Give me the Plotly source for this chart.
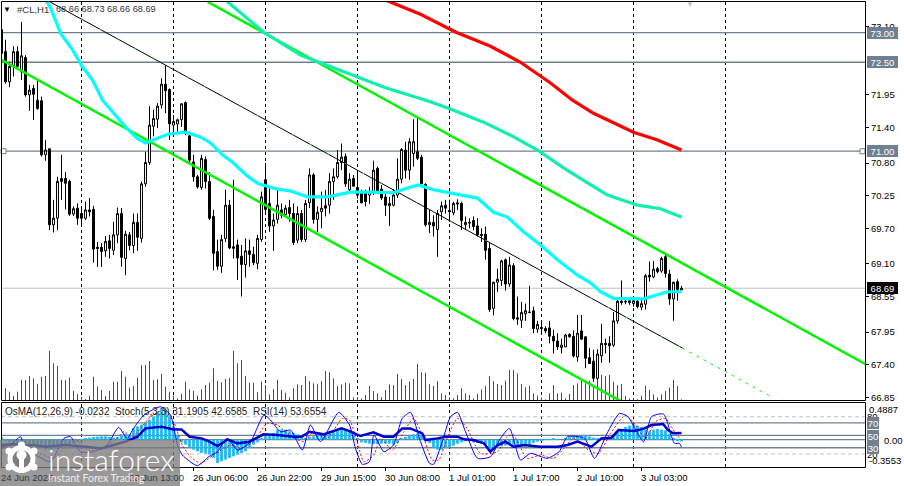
import plotly.graph_objects as go

# Hourly bars: open, high, low, close
opens = [73.05,72.68,72.17,72.43,72.68,72.34,72.58,71.95,72.06,71.86,71.85,70.94,71.04,69.76,69.87,70.54,70.54,70.49,69.94,70.04,
69.95,69.87,70.01,70.02,69.38,69.38,69.32,69.49,69.33,69.59,69.95,69.19,69.59,69.41,69.80,69.53,70.45,70.81,71.42,71.54,
71.78,72.13,72.04,71.44,71.46,71.53,71.82,71.26,70.82,70.57,70.39,70.86,70.49,69.90,69.31,69.06,69.53,70.09,69.36,69.42,
69.23,69.09,69.32,69.26,69.11,69.51,70.52,70.12,69.74,69.85,70.01,69.93,70.05,69.95,69.50,69.95,69.51,70.13,70.60,69.85,
69.98,70.08,70.09,70.49,70.57,70.81,70.91,70.35,70.54,70.39,70.29,70.29,70.26,70.32,70.71,70.36,70.23,70.08,70.09,70.26,
70.53,71.02,70.68,70.96,70.99,70.90,70.44,69.76,69.80,69.68,69.98,70.09,70.00,69.96,70.13,70.12,69.76,69.80,69.83,69.74,
69.60,69.60,69.36,68.35,68.79,68.82,69.17,68.76,69.07,68.19,68.15,68.26,68.29,68.31,68.00,68.03,68.01,68.02,67.88,67.80,
67.69,67.70,67.91,67.88,67.53,67.97,67.87,67.52,67.46,67.17,67.55,67.76,67.76,67.73,68.14,68.47,68.47,68.48,68.43,68.47,
68.37,68.42,68.91,68.88,69.02,68.98,69.22,68.93,68.51,68.80,68.66]
highs = [73.05,72.88,72.51,72.77,72.77,73.18,72.62,72.12,72.12,72.20,71.92,71.19,71.05,70.18,70.57,70.94,70.65,70.52,70.07,70.12,
70.04,70.15,70.21,70.08,69.47,69.45,69.57,69.59,69.81,70.05,70.04,69.66,69.64,69.95,69.95,70.49,70.99,71.76,71.70,71.81,
72.23,72.45,72.06,71.61,71.55,71.81,71.84,71.33,70.94,70.60,70.94,70.91,70.65,70.01,69.51,69.59,70.35,70.18,70.52,69.51,
69.42,69.53,69.51,69.39,69.59,70.32,70.80,70.40,69.95,70.35,70.12,70.09,70.18,70.12,70.07,70.01,70.18,70.71,70.63,70.07,
70.32,70.35,70.63,70.71,71.02,71.13,70.96,70.63,70.60,70.68,70.35,70.35,70.40,70.84,70.74,70.43,70.29,70.23,70.36,70.88,
71.05,71.16,71.22,71.54,71.58,70.94,70.46,70.01,69.92,70.01,70.15,70.18,70.18,70.15,70.19,70.15,69.90,69.87,69.90,69.87,
69.70,69.73,69.45,68.80,69.02,69.17,69.19,69.22,69.11,68.55,68.46,68.43,68.73,68.38,68.14,68.11,68.05,68.14,67.99,67.93,
67.84,67.92,67.93,67.98,68.24,68.24,67.88,67.68,67.65,67.66,68.09,67.84,67.88,68.29,68.50,68.82,68.50,68.50,68.52,68.52,
68.49,68.93,69.14,69.15,69.05,69.22,69.25,69.00,68.80,68.84,68.73]
lows = [72.34,72.14,72.08,72.26,72.37,72.20,71.92,71.68,71.53,71.70,70.91,70.84,69.67,69.63,69.67,70.18,70.02,69.91,69.91,69.76,
69.76,69.84,69.90,69.12,69.05,69.05,69.22,69.19,69.25,69.45,69.05,68.91,69.33,69.28,69.32,69.46,70.40,70.77,71.25,71.39,
71.72,71.64,71.19,71.30,71.33,71.41,71.27,70.80,70.49,70.37,70.35,70.37,69.84,68.99,69.00,68.95,69.47,69.35,69.19,68.83,
68.55,68.87,69.05,69.08,69.01,69.47,69.95,69.64,69.32,69.78,69.87,69.90,69.81,69.42,69.45,69.47,69.47,70.04,69.78,69.64,
69.70,69.90,69.95,70.18,70.54,70.68,70.40,70.29,70.41,70.20,70.12,70.07,70.11,70.26,70.29,70.18,69.91,69.74,70.07,70.21,
70.46,70.54,70.52,70.74,70.85,70.43,69.73,69.62,69.56,69.22,69.84,69.95,69.81,69.92,70.01,69.67,69.67,69.70,69.67,69.56,
69.47,69.17,68.29,68.23,68.63,68.73,68.65,68.71,68.15,68.07,68.02,68.14,68.27,67.93,67.94,67.93,67.93,67.76,67.59,67.65,
67.59,67.70,67.86,67.52,67.45,67.82,67.34,67.42,67.11,67.14,67.43,67.59,67.43,67.70,68.09,68.41,68.42,68.41,68.38,68.35,
68.32,68.33,68.80,68.86,68.94,68.95,68.87,68.41,68.14,68.48,68.66]
closes = [72.65,72.17,72.43,72.68,72.43,72.61,71.95,72.03,71.96,71.72,70.94,71.02,69.76,69.87,70.49,70.49,70.46,69.94,70.03,69.87,
69.87,70.01,69.98,69.35,69.36,69.31,69.48,69.36,69.59,69.95,69.21,69.60,69.41,69.80,69.55,70.45,70.81,71.44,71.55,71.76,
72.13,72.02,71.46,71.50,71.53,71.80,71.30,70.85,70.57,70.40,70.88,70.49,69.87,69.28,69.06,69.51,70.09,69.37,69.39,69.20,
69.09,69.32,69.26,69.12,69.53,70.23,70.02,69.74,69.84,70.09,69.92,70.04,69.95,69.46,69.95,69.51,70.12,70.60,69.85,69.97,
70.04,70.04,70.49,70.57,70.81,70.90,70.45,70.53,70.41,70.26,70.13,70.15,70.32,70.68,70.33,70.21,70.09,70.12,70.26,70.53,
71.03,70.68,71.16,71.16,70.88,70.45,69.76,69.80,69.74,69.95,70.08,70.04,69.98,70.12,70.11,69.83,69.80,69.79,69.73,69.59,
69.58,69.33,68.33,68.79,68.84,69.15,68.76,69.08,68.18,68.17,68.28,68.31,68.28,68.01,68.08,68.01,67.97,67.88,67.80,67.70,
67.73,67.90,67.87,67.55,67.93,67.83,67.51,67.42,67.17,67.58,67.76,67.74,67.72,68.14,68.47,68.45,68.46,68.45,68.48,68.38,
68.43,68.90,68.88,69.01,68.97,69.19,68.94,68.51,68.79,68.67,68.69]
volumes = [55,35,25,12,25,60,60,72,65,48,70,72,147,110,102,60,60,67,27,18,10,3,13,70,40,30,12,27,55,55,87,70,37,42,67,105,105,117,60,62,
78,40,25,13,5,18,55,32,27,13,32,45,52,95,57,53,63,66,147,110,120,72,52,52,23,55,45,17,33,60,30,22,8,35,47,45,72,57,50,47,
57,87,83,65,42,47,52,50,8,8,5,15,42,27,20,8,30,47,45,78,63,45,55,63,108,83,82,47,42,57,20,15,8,5,15,35,20,15,5,18,
32,42,72,57,48,45,58,90,90,80,48,38,43,20,13,8,2,20,45,20,22,5,18,45,50,60,50,58,45,62,75,72,75,55,45,48,12,4,5,2,
13,43,30,17,8,17,27,37,60,42,2]

# Moving averages as (bar, price) pairs
ma_fast_bars = [9.75,11,12.25,14.75,17.75,20.25,22.75,25.25,28.5,31,34,36,39,41.75,46,49.75,52.25,55.25,58,61.5,64.25,69,72.25,76.5,81.5,84.75,87.25,92.25,98,101.5,104.25,108,112.25,119,123,126.5,130.5,134.75,139,144,147.25,149.75,153,160.5,164,166.5,170]
ma_fast_vals = [73.69,73.55,73.42,72.99,72.71,72.42,72.20,71.86,71.61,71.41,71.21,71.14,71.22,71.29,71.32,71.24,71.14,70.94,70.80,70.58,70.45,70.36,70.33,70.23,70.23,70.28,70.31,70.31,70.30,70.38,70.43,70.35,70.30,70.21,69.97,69.89,69.64,69.42,69.17,68.91,68.78,68.63,68.52,68.51,68.58,68.63,68.63]
ma_mid_bars = [55.25,56.5,65.5,74.75,79.75,87.25,96,106.5,112.25,120.5,127.25,134,140.5,145.5,151.5,159,164.75,170]
ma_mid_vals = [73.60,73.52,73.01,72.62,72.49,72.30,72.07,71.85,71.71,71.49,71.27,71.02,70.72,70.51,70.26,70.09,70.03,69.89]
ma_slow_bars = [94.75,96,104.75,113.5,122.25,129.75,137.25,142.75,148,153,158,164,170]
ma_slow_vals = [73.60,73.55,73.31,73.01,72.77,72.50,72.15,71.86,71.64,71.48,71.32,71.19,71.02]

# Falling channel, end points as (bar, price)
chan_lower_bars, chan_lower_vals = [-0.25, 155.5], [72.55, 66.76]
chan_mid_bars, chan_mid_vals = [11.25, 170.25], [73.55, 67.68]
chan_ext_bars, chan_ext_vals = [170.25, 193], [67.68, 66.84]
chan_upper_bars, chan_upper_vals = [51.5, 216], [73.52, 67.41]

# Price levels and axis labels
levels = [73.00, 72.50, 71.00]
last_price = 68.69
price_ticks = [73.10, 71.95, 71.40, 70.80, 70.25, 69.70, 69.10, 68.55, 67.95, 67.40, 66.85]
day_breaks = [20, 43, 66, 89, 112, 135, 158, 181]
time_bars = [0, 32, 48, 64, 80, 96, 112, 128, 144, 160]
time_text = ["24 Jun 2023", "23 Jun 13:00", "26 Jun 06:00", "26 Jun 22:00", "29 Jun 15:00", "30 Jun 08:00",
             "1 Jul 01:00", "1 Jul 17:00", "2 Jul 10:00", "3 Jul 03:00"]

# Oscillators
osma = [.035,-.022,-.035,-.043,-.043,-.043,-.052,-.065,-.078,-.087,-.108,-.130,-.130,-.130,-.121,-.095,-.087,-.065,-.052,-.035,
-.013,.013,.026,.035,.039,.043,.043,.035,.026,.035,.065,.078,.065,.152,.173,.195,.216,.260,.303,.368,
.411,.390,.303,.173,.065,-.035,-.065,-.108,-.130,-.152,-.173,-.182,-.195,-.238,-.303,-.281,-.260,-.238,-.216,-.195,
-.173,-.152,-.108,-.065,-.035,.009,.043,.065,.087,.130,.130,.130,.108,.087,.065,.043,.022,.035,.043,.052,
.065,.078,.108,.108,.121,.130,.130,.121,.065,.022,-.035,-.043,-.052,-.056,-.056,-.052,-.052,-.052,-.065,-.043,
.022,.035,.052,.069,.078,.065,0,-.043,-.108,-.130,-.130,-.108,-.095,-.078,-.052,-.035,-.022,-.022,-.035,-.043,
-.052,-.065,-.152,-.130,-.108,-.087,-.078,-.065,-.065,-.087,-.095,-.087,-.065,-.043,-.026,-.013,.004,-.004,.009,.004,
0,.017,.035,.043,.043,.052,.052,.043,.026,.009,.026,.035,.035,.061,.108,.139,.165,.182,.195,.182,
.165,.130,.108,.130,.139,.130,.121,.078,.022,-.009,-.0232]
rsi_bars = [0,3,6,8,11,16,21,25,28,31,34,36,40,43,45,47,50,52,54,56.5,59,62,65.5,69,73,75,77,80.5,85,87,89.75,93,95.6,98,100.2,102.2,105.2,106,109,111,114,115.6,118,120.6,122.2,124,126,128,130.6,134.75,139,141.5,144,147.5,150,152.5,154.25,158.3,160.75,162.5,165.4,166.6,167.9,170]
rsi_vals = [34.4,36,33.3,34.4,31.7,34.4,31.7,29,34.4,39.8,47.8,61.2,63.9,59.6,59.6,47.8,45.1,39.8,32.8,43.5,37.1,39.8,51.6,50.5,47.8,47.8,55.8,51.6,61.2,56.9,48.9,54.8,47.8,47.8,61.2,61.2,53.2,42.4,45.1,47.8,47.8,43.5,42.4,37.1,23.7,34.4,39.8,31.7,34.4,31.7,31.7,34.4,39.8,31.7,45.1,46.2,58.5,56.9,61.2,66.6,68.2,58.5,53.2,53.66]
stoch_bars = [0,2.25,4.75,5.6,8,12.25,15.6,17.25,19.75,23,26.4,29.3,31.4,33,35.6,39.75,42.25,44,45.2,49,51.8,54,56.4,59,62.25,65.6,67.25,69.75,72.25,75.2,77.25,79.75,84.3,87,88.5,90.2,92,93.1,95.6,98,100.2,102.25,104.75,107,108,110.2,112.25,114,116,119,122.25,124.75,127,129.75,132.25,136.4,139.4,141.5,145.75,148.25,151.6,154.5,156.6,160.5,162.5,165.5,168.25,169.5,170]
stoch_vals = [31.7,34.4,47.8,34.4,21,7.6,45.1,47.8,23.7,23.7,34.4,62.8,45.1,61.2,82.6,96,82.6,34.4,18.3,1.2,15.6,23.7,45.1,26.4,39.8,82.6,74.6,55.8,58.5,26.4,66.6,39.8,86.9,66.6,29,3.3,7.6,50.5,23.7,34.4,77.3,86.9,39.8,4.9,3.3,39.8,80,86.9,55.8,13,15.6,45.1,61.2,10.3,21,13,23.7,47.8,45.1,13,55.8,85.3,80,39.8,80,84.2,37.1,37.1,31.19]
signal_bars = [0,3,6,8,13,16.4,18.5,21.4,24.75,28,30.6,32.7,34.75,37.25,40.6,43,45.2,47.25,49.75,53,57.25,59.75,63,66.4,69,71.4,75.6,78,81.4,85.2,87,88.9,90.6,93.1,94.75,97.7,100.6,103,105.6,107.7,109.3,111.4,114,116.4,119.75,124,126.4,128,131.4,134.75,138,140.6,143,147.25,149.3,152.25,156,158.5,161,163.5,166,168.5,170]
signal_vals = [29,34.4,39.8,26.4,13,34.4,42.4,26.4,26.4,39.8,55.8,47.8,61.2,80,90.7,71.9,34.4,15.6,4.9,18.3,34.4,29,39.8,69.2,66.6,53.2,39.8,55.8,45.1,77.3,74.6,39.8,7.6,18.3,45.1,26.4,55.8,77.3,45.1,10.3,10.3,45.1,77.3,61.2,21,23.7,47.8,50.5,13,18.3,13,29,45.1,23.7,21,53.2,82.6,66.6,45.1,71.9,77.3,53.2,42.66]
rsi_levels = [70, 50, 30]
stoch_levels = [80, 20]

FONT = "Liberation Sans"
SIZE = 9.5
SLATE = "#708090"
bars = list(range(len(closes)))


def fx(x):
    return (x - 1) / 864


def fy(y):
    return (467 - y) / 466


fig = go.Figure()

# Lower window: OsMA histogram with stochastic and RSI on top
fig.add_trace(go.Bar(x=bars, y=osma, width=0.7, marker=dict(color="#22b8ee", line_width=0), xaxis="x", yaxis="y"))
fig.add_trace(go.Scatter(x=signal_bars, y=signal_vals, mode="lines", xaxis="x", yaxis="y2",
                         line=dict(color="#ff0000", width=1, dash="2px,2px", shape="spline", smoothing=0.6)))
fig.add_trace(go.Scatter(x=stoch_bars, y=stoch_vals, mode="lines", xaxis="x", yaxis="y2",
                         line=dict(color="#0000ff", width=1, shape="spline", smoothing=0.6)))
fig.add_trace(go.Scatter(x=rsi_bars, y=rsi_vals, mode="lines", xaxis="x", yaxis="y2",
                         line=dict(color="#0000cd", width=2.5)))

# Upper window: volume drawn as one-pixel stems, then candles, averages and channel
stem_x, stem_y = [], []
for b, v in zip(bars, volumes):
    stem_x += [b, b, None]
    stem_y += [0, v, None]
fig.add_trace(go.Scatter(x=stem_x, y=stem_y, mode="lines", xaxis="x", yaxis="y3",
                         line=dict(color="#0b7a0b", width=1)))
fig.add_trace(go.Candlestick(x=bars, open=opens, high=highs, low=lows, close=closes, xaxis="x", yaxis="y4",
                             whiskerwidth=0,
                             increasing=dict(fillcolor="#ffffff", line=dict(color="#000000", width=1)),
                             decreasing=dict(fillcolor="#000000", line=dict(color="#000000", width=1))))
fig.add_trace(go.Scatter(x=chan_lower_bars, y=chan_lower_vals, mode="lines", xaxis="x", yaxis="y4",
                         line=dict(color="#00f500", width=2.5)))
fig.add_trace(go.Scatter(x=chan_upper_bars, y=chan_upper_vals, mode="lines", xaxis="x", yaxis="y4",
                         line=dict(color="#00f500", width=2.5)))
fig.add_trace(go.Scatter(x=chan_mid_bars, y=chan_mid_vals, mode="lines", xaxis="x", yaxis="y4",
                         line=dict(color="#000000", width=1)))
fig.add_trace(go.Scatter(x=chan_mid_bars, y=chan_mid_vals, mode="lines", xaxis="x", yaxis="y4",
                         line=dict(color="#00f500", width=1, dash="2px,18px")))
fig.add_trace(go.Scatter(x=chan_ext_bars, y=chan_ext_vals, mode="lines", xaxis="x", yaxis="y4",
                         line=dict(color="#00f500", width=1, dash="3px,5px")))
fig.add_trace(go.Scatter(x=ma_fast_bars, y=ma_fast_vals, mode="lines", xaxis="x", yaxis="y4",
                         line=dict(color="#00ffff", width=3.2)))
fig.add_trace(go.Scatter(x=ma_mid_bars, y=ma_mid_vals, mode="lines", xaxis="x", yaxis="y4",
                         line=dict(color="#10efb0", width=3.2)))
fig.add_trace(go.Scatter(x=ma_slow_bars, y=ma_slow_vals, mode="lines", xaxis="x", yaxis="y4",
                         line=dict(color="#ff0000", width=3.2)))
fig.add_trace(go.Scatter(x=[0.5, 215.25], y=[71.00, 71.00], mode="markers", xaxis="x", yaxis="y4", cliponaxis=False,
                         marker=dict(symbol="square", size=5, color="#ffffff", line=dict(color=SLATE, width=1))))

shapes = []
for b in day_breaks:
    shapes.append(dict(type="line", layer="below", xref="x", yref="paper", x0=b, x1=b, y0=0, y1=1,
                       line=dict(color="#000000", width=1, dash="3px,3px")))
for lv in levels:
    shapes.append(dict(type="line", layer="below", xref="paper", yref="y4", x0=0, x1=1, y0=lv, y1=lv,
                       line=dict(color=SLATE, width=1.3)))
shapes.append(dict(type="line", layer="below", xref="paper", yref="y4", x0=0, x1=1, y0=last_price, y1=last_price,
                   line=dict(color="#c0c0c0", width=1)))
for lv in rsi_levels:
    shapes.append(dict(type="line", layer="below", xref="paper", yref="y2", x0=0, x1=1, y0=lv, y1=lv,
                       line=dict(color=SLATE, width=1.3)))
shapes.append(dict(type="line", layer="below", xref="paper", yref="y", x0=0, x1=1, y0=0, y1=0,
                   line=dict(color=SLATE, width=1.3)))
for lv in stoch_levels:
    shapes.append(dict(type="line", layer="below", xref="paper", yref="y2", x0=0, x1=1, y0=lv, y1=lv,
                       line=dict(color="#c0c0c0", width=1, dash="4px,3px")))

# Window frames
for y0, y1 in ((1.5, 400.5), (402.5, 467.5)):
    shapes.append(dict(type="rect", layer="above", xref="paper", yref="paper", x0=fx(1.5), x1=fx(865.5),
                       y0=fy(y1), y1=fy(y0), line=dict(color="#000000", width=1)))

# Broker badge in the lower-left corner
shapes.append(dict(type="rect", layer="above", xref="paper", yref="paper", x0=fx(0), x1=fx(180), y0=fy(486), y1=fy(440),
                   fillcolor="#7c7c7c", opacity=0.78, line_width=0))


def disc(cx, cy, r, colour):
    return dict(type="circle", layer="above", xref="paper", yref="paper",
                x0=fx(cx - r), x1=fx(cx + r), y0=fy(cy + r), y1=fy(cy - r), fillcolor=colour, line_width=0)


shapes += [disc(21.5, 459, 14, "#ffffff"), disc(21.5, 459, 9, "#7d7d7d"), disc(21.5, 455, 5, "#ffffff")]
shapes.append(dict(type="rect", layer="above", xref="paper", yref="paper", x0=fx(19), x1=fx(24), y0=fy(473), y1=fy(458),
                   fillcolor="#ffffff", line_width=0))
for cx, cy in ((21.5, 445), (9, 451), (34, 451), (9, 467), (34, 467)):
    shapes.append(disc(cx, cy, 3.5, "#ffffff"))

annotations = []


def text(x, y, s, colour="#000000", size=SIZE, anchor="left", family=FONT, weight=None, **kw):
    font = dict(family=family, size=size, color=colour)
    if weight:
        font["weight"] = weight
    annotations.append(dict(xref="paper", yref="paper", x=fx(x), y=fy(y), text=s, showarrow=False, xanchor=anchor,
                            yanchor="middle", font=font, borderpad=0, borderwidth=0, **kw))


def tag(y, s, bg, w=31, x=867):
    text(x, y, s, "#ffffff", bgcolor=bg, width=w, height=12, align="center")


text(3, 9.5, "▼", "#000000", size=8)
text(17, 9.5, "#CL,H1", "#333333")
text(56, 9.5, "68.66 68.73 68.66 68.69", "#333333", size=9.2)
text(686, 4, "▼", "#c4c4c4", size=8)
text(5, 411, "OsMA(12,26,9) -0.0232&nbsp;&nbsp;Stoch(5,3,3) 31.1905 42.6585&nbsp;&nbsp;RSI(14) 53.6554", "#222222", size=10)

for lv in levels:
    tag((73.533 - lv) * 59.3 + 1, f"{lv:.2f}", SLATE)
tag((73.533 - last_price) * 59.3 + 1, f"{last_price:.2f}", "#000000")

text(869, 409, "0.4887")
text(869, 460, "-0.3553")
text(884, 440, "0.00")
text(867, 416, "80")
text(867, 454, "20")
tag(422.5, "70", SLATE, w=12)
tag(435.7, "50", SLATE, w=12)
tag(448.3, "30", SLATE, w=12)

for b, s in zip(time_bars, time_text):
    text(1 + 4 * b, 477, s, "#3a3a3a" if b < 40 else "#000000")

text(48, 459, "instaforex", "#ffffff", size=30, family="Lato", weight=300)
text(48, 478, "Instant Forex Trading", "#eeeeee", size=10.5, family="Lato")

fig.update_layout(
    width=904, height=486, autosize=False, showlegend=False,
    margin=dict(l=1, r=39, t=1, b=19, pad=0),
    paper_bgcolor="#ffffff", plot_bgcolor="#ffffff",
    barmode="overlay",
    shapes=shapes, annotations=annotations,
    xaxis=dict(domain=[0, 1], range=[-0.125, 215.875], anchor="y", showgrid=False, zeroline=False, showline=False,
               rangeslider=dict(visible=False), ticks="outside", ticklen=3, tickcolor="#000000",
               tickvals=time_bars[2:], showticklabels=False),
    yaxis=dict(domain=[0, fy(402)], range=[-0.3553, 0.4887], anchor="x", visible=False, fixedrange=True),
    yaxis2=dict(overlaying="y", range=[-1, 103.7], anchor="x", visible=False),
    yaxis3=dict(domain=[fy(400), 1], range=[0, 1197], anchor="x", visible=False),
    yaxis4=dict(overlaying="y3", range=[66.805, 73.533], anchor="x", side="right", showgrid=False, zeroline=False,
                showline=False, ticks="outside", ticklen=3, tickcolor="#000000", tickvals=price_ticks,
                ticktext=[f"{p:.2f}" for p in price_ticks], tickfont=dict(family=FONT, size=SIZE, color="#000000")),
)

fig.write_html("out.html")
